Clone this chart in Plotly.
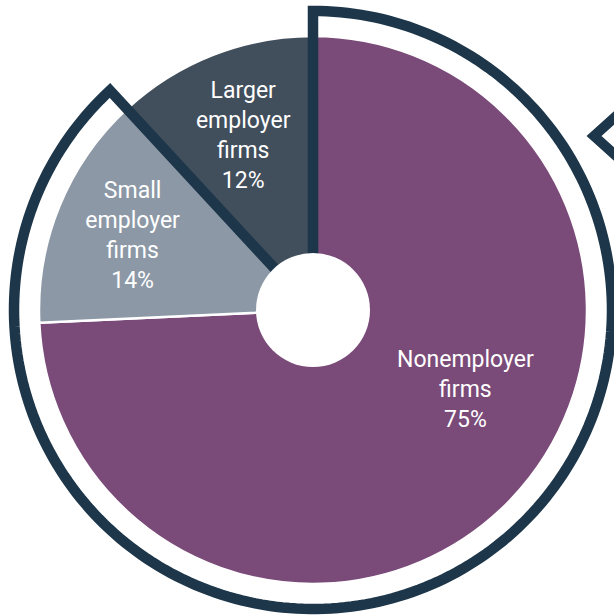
import numpy as np
import plotly.graph_objects as go

# Share of firms by type
categories = ["Nonemployer firms", "Small employer firms", "Larger employer firms"]
shares = [75, 14, 12]
slice_labels = ["Nonemployer<br>firms", "Small<br>employer<br>firms", "Larger<br>employer<br>firms"]
colors = ["#7A4B79", "#8C98A6", "#414E5C"]
NAVY = "#1D3649"

# Canvas and geometry (pixels)
W, H = 614, 616
CX, CY = 313, 310          # pie centre, measured from top-left
R_PIE = 274                # pie radius
R_FRAME = 300              # polar frame radius
R_OUTLINE = 299            # highlight outline radius
R_HOLE = 57                # centre hole radius

# Label placement (pie units / degrees clockwise from top)
label_r = [0.63, 0.71, 0.68]
label_theta = [118, 292, 338]

total = sum(shares)
spans = np.array([s / total * 360 for s in shares])
starts = np.concatenate([[0], np.cumsum(spans)[:-1]])
centers = starts + spans / 2


def to_paper(r, theta_deg):
    """Polar (pixels, degrees clockwise from top) -> paper coordinates."""
    t = np.radians(theta_deg)
    x = CX + r * np.sin(t)
    y = CY - r * np.cos(t)
    return x / W, 1 - y / H


def pt(x, y):
    return f"{x:.5f},{y:.5f}"


fig = go.Figure()

# Pie slices
fig.add_trace(go.Barpolar(
    r=[1] * len(shares), theta=centers, width=spans,
    marker=dict(color=colors, line=dict(color="white", width=2.5)),
    hoverinfo="skip", showlegend=False,
))

# Slice labels
fig.add_trace(go.Scatterpolar(
    r=label_r, theta=label_theta, mode="text",
    text=[f"{lab}<br>{v}%" for lab, v in zip(slice_labels, shares)],
    textposition="middle center",
    textfont=dict(family="Roboto", size=23, color="white"),
    hoverinfo="skip", showlegend=False,
))

# Outline around nonemployer + small employer slices
end = spans[0] + spans[1]
arc = np.linspace(0, end, 240)
ax, ay = to_paper(R_OUTLINE, arc)
cx0, cy0 = to_paper(0, 0)
outline = "M " + pt(cx0, cy0) + " " + " ".join("L " + pt(x, y) for x, y in zip(ax, ay)) + " L " + pt(cx0, cy0)
fig.add_shape(type="path", xref="paper", yref="paper", path=outline,
              line=dict(color=NAVY, width=10.5), layer="above")

# White centre hole
fig.add_shape(type="circle", xref="paper", yref="paper",
              x0=(CX - R_HOLE) / W, x1=(CX + R_HOLE) / W,
              y0=1 - (CY + R_HOLE) / H, y1=1 - (CY - R_HOLE) / H,
              fillcolor="white", line=dict(color="white", width=0), layer="above")

# Partial outline of a neighbouring element at the right edge
def px(x, y):
    return pt(x / W, 1 - y / H)

fig.add_shape(
    type="path", xref="paper", yref="paper",
    path=f"M {px(624, 109)} L {px(594, 136)} L {px(624, 163)}",
    line=dict(color=NAVY, width=10), layer="above",
)

fig.update_layout(
    width=W, height=H,
    margin=dict(l=0, r=0, t=0, b=0),
    paper_bgcolor="white", plot_bgcolor="white",
    showlegend=False,
    polar=dict(
        domain=dict(x=[(CX - R_FRAME) / W, (CX + R_FRAME) / W],
                    y=[(H - CY - R_FRAME) / H, (H - CY + R_FRAME) / H]),
        bgcolor="rgba(0,0,0,0)",
        bargap=0,
        radialaxis=dict(visible=False, range=[0, R_FRAME / R_PIE],
                        showgrid=False, showline=False, showticklabels=False, ticks=""),
        angularaxis=dict(visible=False, rotation=90, direction="clockwise",
                         showgrid=False, showline=False, showticklabels=False, ticks=""),
    ),
)

fig.write_html("out.html")
